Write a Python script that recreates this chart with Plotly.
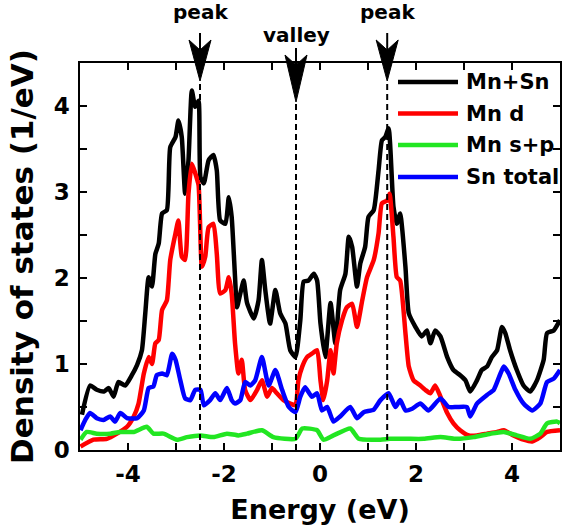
import plotly.graph_objects as go

# ---------------- data ----------------
x_total = [-4.96, -4.79, -4.65, -4.50, -4.40, -4.30, -4.20, -4.06, -3.92, -3.81, -3.71, -3.64, -3.57, -3.50,
           -3.43, -3.36, -3.29, -3.19, -3.12, -3.01, -2.95, -2.88, -2.81, -2.74, -2.67, -2.60, -2.53, -2.49,
           -2.42, -2.32, -2.22, -2.15, -2.08, -1.97, -1.90, -1.84, -1.77, -1.73, -1.66, -1.59, -1.52, -1.38,
           -1.28, -1.21, -1.14, -1.04, -0.93, -0.83, -0.72, -0.62, -0.51, -0.41, -0.34, -0.24, -0.13, -0.06,
           0.01, 0.11, 0.22, 0.32, 0.42, 0.53, 0.60, 0.67, 0.77, 0.84, 0.94, 1.01, 1.12, 1.22, 1.29, 1.36,
           1.43, 1.53, 1.60, 1.67, 1.78, 1.85, 1.99, 2.12, 2.23, 2.30, 2.40, 2.51, 2.65, 2.78, 2.92, 3.03,
           3.13, 3.27, 3.37, 3.48, 3.58, 3.69, 3.79, 3.86, 3.96, 4.10, 4.24, 4.38, 4.52, 4.66, 4.73, 4.87, 5.0]
y_total = [0.41, 0.75, 0.70, 0.68, 0.72, 0.62, 0.79, 0.75, 0.87, 0.99, 1.16, 1.59, 2.01, 1.90,
           2.28, 2.40, 2.75, 2.79, 3.52, 3.64, 3.83, 3.64, 2.98, 3.37, 4.18, 3.99, 4.06, 3.17,
           3.10, 3.37, 3.43, 3.25, 2.67, 2.63, 2.94, 2.71, 2.01, 1.66, 1.82, 1.97, 1.71, 1.53,
           1.74, 2.21, 1.86, 1.47, 1.86, 1.59, 1.47, 1.16, 1.08, 1.51, 1.96, 1.97, 2.05, 1.97,
           1.47, 1.08, 1.71, 1.24, 1.86, 2.05, 2.48, 2.36, 1.90, 2.17, 2.36, 2.71, 2.79, 3.25, 3.60, 3.64,
           3.74, 2.83, 2.63, 2.75, 2.13, 1.59, 1.43, 1.32, 1.39, 1.24, 1.39, 1.32, 1.08, 0.93, 0.87, 0.81,
           0.68, 0.81, 0.93, 0.97, 1.08, 1.16, 1.43, 1.36, 1.16, 0.93, 0.75, 0.68, 0.81, 1.05, 1.36, 1.39, 1.51]

x_mnd = [-4.99, -4.72, -4.44, -4.23, -4.02, -3.88, -3.78, -3.67, -3.57, -3.50, -3.43, -3.36, -3.29, -3.19,
         -3.12, -3.01, -2.95, -2.88, -2.81, -2.74, -2.67, -2.60, -2.53, -2.46, -2.39, -2.32, -2.22, -2.15,
         -2.08, -1.97, -1.90, -1.84, -1.77, -1.70, -1.63, -1.56, -1.45, -1.31, -1.21, -1.10, -1.00, -0.90,
         -0.76, -0.62, -0.51, -0.45, -0.37, -0.27, -0.17, -0.06, 0.01, 0.07, 0.15, 0.22, 0.28, 0.35, 0.46,
         0.56, 0.67, 0.77, 0.88, 0.98, 1.12, 1.22, 1.29, 1.40, 1.45, 1.53, 1.60, 1.67, 1.78, 1.85, 1.95,
         2.09, 2.19, 2.30, 2.40, 2.51, 2.65, 2.78, 2.92, 3.10, 3.27, 3.48, 3.69, 3.83, 4.03, 4.24, 4.42,
         4.59, 4.73, 5.0]
y_mnd = [0.04, 0.12, 0.13, 0.19, 0.27, 0.39, 0.54, 0.89, 1.08, 1.00, 1.24, 1.28, 1.63, 1.74,
         2.21, 2.52, 2.67, 2.25, 2.21, 2.98, 3.33, 3.22, 3.08, 2.13, 2.25, 2.59, 2.63, 2.28,
         1.82, 1.86, 2.01, 1.82, 1.24, 0.89, 1.05, 0.70, 0.58, 0.70, 0.81, 0.62, 0.72, 0.66,
         0.58, 0.54, 0.52, 0.81, 0.97, 1.08, 1.12, 1.16, 0.81, 0.58, 0.81, 1.16, 0.89, 1.24, 1.51,
         1.66, 1.70, 1.43, 1.74, 2.01, 2.21, 2.52, 2.87, 2.90, 2.98, 2.48, 2.01, 1.97, 1.36, 0.97, 0.81,
         0.75, 0.70, 0.66, 0.75, 0.62, 0.43, 0.31, 0.23, 0.17, 0.17, 0.19, 0.21, 0.23, 0.17, 0.12, 0.10,
         0.15, 0.21, 0.23]

x_mnsp = [-4.99, -4.86, -4.65, -4.37, -4.16, -3.88, -3.61, -3.47, -3.26, -2.98, -2.77, -2.49, -2.22, -1.94,
          -1.70, -1.52, -1.21, -0.97, -0.51, -0.37, -0.06, 0.07, 0.28, 0.63, 0.81, 1.26, 1.46, 1.81, 2.16,
          2.51, 2.85, 3.20, 3.55, 3.83, 4.10, 4.38, 4.59, 4.73, 4.94, 5.0]
y_mnsp = [0.12, 0.21, 0.19, 0.19, 0.21, 0.21, 0.27, 0.19, 0.19, 0.12, 0.15, 0.17, 0.15, 0.19,
          0.17, 0.19, 0.23, 0.15, 0.13, 0.25, 0.23, 0.12, 0.17, 0.25, 0.13, 0.12, 0.13, 0.13, 0.13,
          0.15, 0.13, 0.15, 0.19, 0.21, 0.17, 0.13, 0.19, 0.31, 0.33, 0.31]

x_sn = [-4.99, -4.89, -4.79, -4.65, -4.51, -4.37, -4.27, -4.16, -4.02, -3.81, -3.67, -3.57, -3.47, -3.40,
        -3.29, -3.19, -3.08, -3.01, -2.91, -2.81, -2.70, -2.60, -2.49, -2.42, -2.29, -2.18, -2.08, -1.94,
        -1.84, -1.77, -1.66, -1.56, -1.45, -1.35, -1.21, -1.07, -0.93, -0.79, -0.65, -0.51, -0.41, -0.31,
        -0.17, -0.06, 0.04, 0.15, 0.28, 0.42, 0.63, 0.77, 0.91, 1.12, 1.26, 1.43, 1.57, 1.67, 1.78, 1.92,
        2.09, 2.26, 2.51, 2.68, 2.85, 3.06, 3.13, 3.27, 3.48, 3.62, 3.76, 3.83, 3.93, 4.07, 4.24, 4.42,
        4.59, 4.73, 4.87, 5.0]
y_sn = [0.23, 0.35, 0.43, 0.37, 0.35, 0.39, 0.33, 0.43, 0.37, 0.37, 0.46, 0.72, 0.74, 0.87,
        0.89, 0.87, 1.12, 1.05, 0.81, 0.60, 0.58, 0.70, 0.70, 0.52, 0.58, 0.66, 0.58, 0.72,
        0.58, 0.54, 0.58, 0.79, 0.75, 0.81, 1.08, 0.75, 0.93, 0.70, 0.50, 0.44, 0.62, 0.73,
        0.62, 0.66, 0.46, 0.50, 0.33, 0.39, 0.50, 0.37, 0.44, 0.47, 0.58, 0.66, 0.50, 0.58, 0.46, 0.48,
        0.54, 0.46, 0.60, 0.50, 0.50, 0.50, 0.39, 0.54, 0.64, 0.70, 0.89, 0.97, 0.89, 0.70, 0.54, 0.46,
        0.54, 0.79, 0.83, 0.93]

series_names = ["Mn+Sn", "Mn d", "Mn s+p", "Sn total"]
series_colors = ["#000000", "#ff0000", "#22e622", "#0000ff"]
series_x = [x_total, x_mnd, x_mnsp, x_sn]
series_y = [y_total, y_mnd, y_mnsp, y_sn]

marker_x = [-2.5, -0.5, 1.4]
marker_labels = ["peak", "valley", "peak"]

x_ticks = [-4, -2, 0, 2, 4]
y_ticks = [0, 1, 2, 3, 4]

# ---------------- layout geometry ----------------
W, H = 562, 531
ML, MR, MT, MB = 80, 2, 63, 81
PLOT_H = H - MT - MB
PLOT_W = W - ML - MR
FONT = "DejaVu Sans"


def py(p):
    """pixel row -> paper y"""
    return (H - MB - p) / PLOT_H


def px(p):
    return (p - ML) / PLOT_W


fig = go.Figure()
for name, color, xs, ys in zip(series_names, series_colors, series_x, series_y):
    fig.add_trace(go.Scatter(x=xs, y=ys, mode="lines", name=name,
                             line=dict(color=color, width=4.5, shape="spline", smoothing=0.5),
                             showlegend=False, hoverinfo="skip"))

shapes = []
annotations = []

# arrows + dashed lines
arrow_geom = {"peak": dict(text=12, top=33, barb=40, notch=50, tip=81),
              "valley": dict(text=35, top=48, barb=55, notch=65, tip=102)}
HW = 11 / PLOT_W * 10  # half width of arrow head in data units
for xv, lab in zip(marker_x, marker_labels):
    g = arrow_geom[lab]
    shapes.append(dict(type="line", xref="x", yref="paper", x0=xv, x1=xv, y0=0, y1=py(g["tip"]),
                       line=dict(color="black", width=2, dash="6px,4px")))
    shapes.append(dict(type="line", xref="x", yref="paper", x0=xv, x1=xv, y0=py(g["top"]), y1=py(g["notch"]),
                       line=dict(color="black", width=2)))
    path = (f"M {xv},{py(g['tip'])} L {xv - HW},{py(g['barb'])} L {xv},{py(g['notch'])} "
            f"L {xv + HW},{py(g['barb'])} Z")
    shapes.append(dict(type="path", xref="x", yref="paper", path=path,
                       fillcolor="black", line=dict(color="black", width=1)))
    annotations.append(dict(x=xv, y=py(g["text"]), xref="x", yref="paper", text=lab, showarrow=False,
                            xanchor="center", yanchor="middle",
                            font=dict(family=FONT, size=20, color="black", weight="bold")))

# manual legend
leg_rows = [82, 113.5, 145, 177]
for name, color, r in zip(series_names, series_colors, leg_rows):
    shapes.append(dict(type="line", xref="paper", yref="paper", x0=px(398), x1=px(458), y0=py(r), y1=py(r),
                       line=dict(color=color, width=4.5)))
    annotations.append(dict(x=px(464), y=py(r), xref="paper", yref="paper", text=name, showarrow=False,
                            xanchor="left", yanchor="middle",
                            font=dict(family=FONT, size=21, color="black", weight="bold")))

axis_common = dict(showline=True, linewidth=1.5, linecolor="black", mirror="ticks", ticks="inside",
                   ticklen=7, tickwidth=1.5, tickcolor="black", showgrid=False, zeroline=False,
                   automargin=False,
                   tickfont=dict(family=FONT, size=23, color="black", weight="bold"))

fig.update_layout(
    width=W, height=H, margin=dict(l=ML, r=MR, t=MT, b=MB),
    paper_bgcolor="white", plot_bgcolor="white",
    shapes=shapes, annotations=annotations,
    xaxis=dict(range=[-5, 5], tickvals=x_ticks, ticktext=[str(v) for v in x_ticks],
               minor=dict(dtick=1, ticks="inside", ticklen=7, tickwidth=1.5, tickcolor="black"),
               ticklabelstandoff=3,
               title=dict(text="Energy (eV)", standoff=14,
                          font=dict(family=FONT, size=27, color="black", weight="bold")),
               **axis_common),
    yaxis=dict(range=[0, 4.5], tickvals=y_ticks, ticktext=[str(v) for v in y_ticks],
               minor=dict(dtick=0.5, ticks="inside", ticklen=7, tickwidth=1.5, tickcolor="black"),
               ticklabelstandoff=4,
               title=dict(text="Density of states (1/eV)", standoff=11,
                          font=dict(family=FONT, size=31, color="black", weight="bold")),
               **axis_common),
)

fig.write_html("out.html", config={"displayModeBar": False},
               post_script="document.body.style.margin='0';")
